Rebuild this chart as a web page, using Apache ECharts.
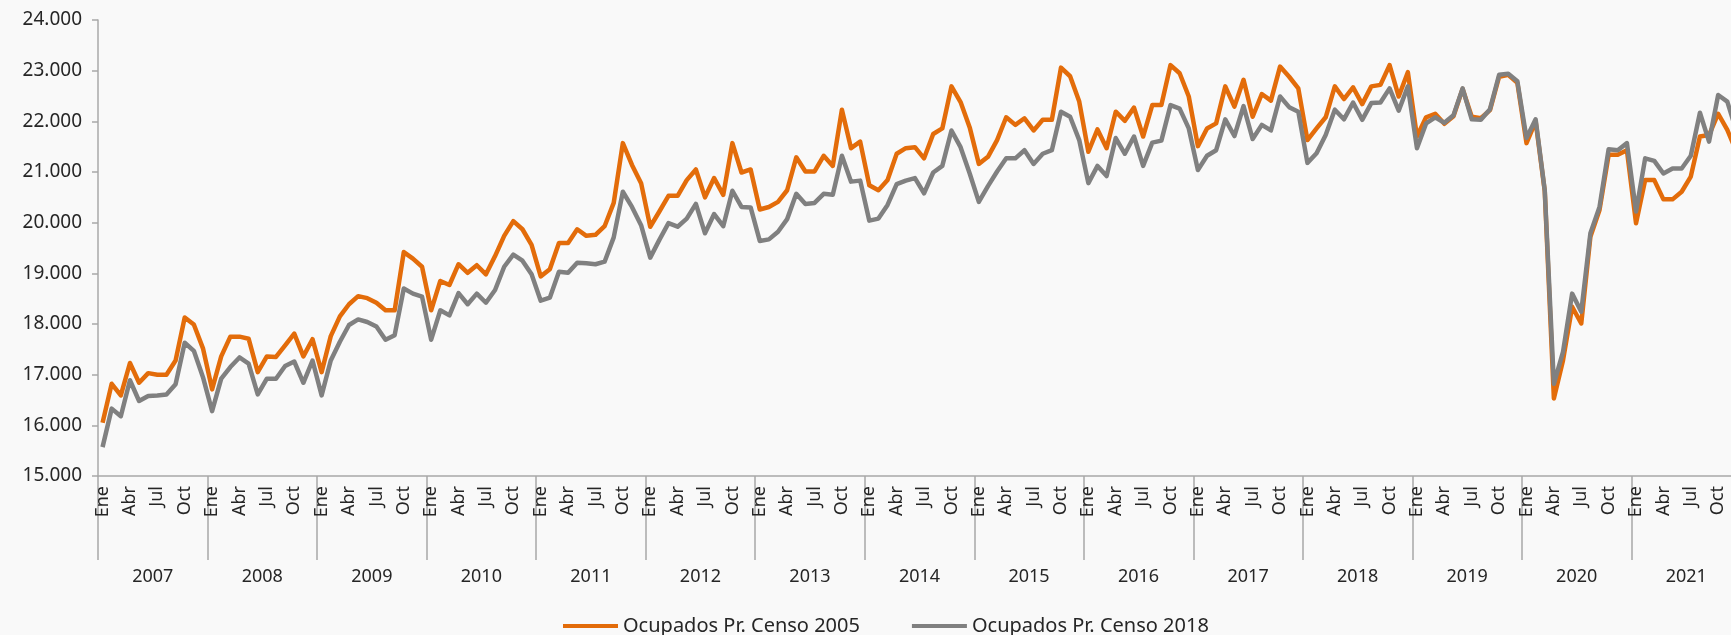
<!DOCTYPE html>
<html>
<head>
<meta charset="utf-8">
<title>Ocupados</title>
<script src="https://cdn.jsdelivr.net/npm/echarts@6/dist/echarts.min.js"></script>
<style>
  html, body { margin: 0; padding: 0; background: #f9f9f9; }
  #chart { width: 1731px; height: 635px; }
</style>
</head>
<body>
<div id="chart"></div>
<script>
// meses y años del eje x
const monthNames = ['Ene', 'Feb', 'Mar', 'Abr', 'May', 'Jun', 'Jul', 'Ago', 'Sep', 'Oct', 'Nov', 'Dic']
const years = ['2007', '2008', '2009', '2010', '2011', '2012', '2013', '2014', '2015', '2016', '2017', '2018', '2019', '2020', '2021']

// miles de personas, enero 2007 - diciembre 2021
const censo2005 = [
  16050, 16820, 16590, 17230, 16840, 17030, 17000, 17000, 17280, 18130, 17990, 17520,
  16710, 17360, 17750, 17750, 17710, 17050, 17360, 17350, 17580, 17810, 17360, 17700,
  17050, 17760, 18150, 18390, 18550, 18510, 18420, 18270, 18270, 19420, 19290, 19130,
  18270, 18850, 18770, 19180, 19010, 19160, 18980, 19340, 19740, 20030, 19870, 19560,
  18940, 19080, 19600, 19600, 19870, 19740, 19760, 19930, 20390, 21570, 21140, 20780,
  19920, 20220, 20530, 20530, 20840, 21050, 20500, 20880, 20550, 21570, 20990, 21050,
  20260, 20310, 20410, 20640, 21290, 21010, 21010, 21320, 21120, 22230, 21470, 21600,
  20740, 20640, 20840, 21360, 21470, 21490, 21270, 21750, 21860, 22690, 22380, 21880,
  21160, 21300, 21630, 22080, 21930, 22060, 21820, 22030, 22030, 23060, 22890, 22390,
  21400, 21840, 21470, 22190, 22010, 22270, 21700, 22320, 22320, 23110, 22950, 22490,
  21510, 21860, 21960, 22690, 22290, 22820, 22090, 22540, 22410, 23080, 22880, 22650,
  21630, 21860, 22080, 22690, 22440, 22670, 22340, 22690, 22720, 23110, 22490, 22970,
  21700, 22080, 22150, 21950, 22100, 22640, 22090, 22060, 22220, 22880, 22920, 22760,
  21570, 22000, 20620, 16530, 17280, 18340, 18010, 19720, 20250, 21340, 21340, 21430,
  19990, 20840, 20840, 20460, 20460, 20610, 20910, 21700, 21730, 22150, 21830, 21400
]
const censo2018 = [
  15570, 16330, 16180, 16890, 16480, 16580, 16590, 16610, 16810, 17630, 17470, 16950,
  16280, 16920, 17150, 17340, 17220, 16610, 16920, 16920, 17170, 17260, 16840, 17280,
  16590, 17280, 17650, 17980, 18090, 18040, 17950, 17690, 17780, 18700, 18600, 18540,
  17690, 18270, 18170, 18610, 18390, 18600, 18420, 18670, 19130, 19370, 19250, 18980,
  18460, 18520, 19030, 19010, 19210, 19200, 19180, 19230, 19710, 20610, 20310, 19950,
  19310, 19660, 19990, 19920, 20080, 20370, 19790, 20170, 19930, 20630, 20310, 20300,
  19640, 19670, 19820, 20070, 20570, 20370, 20390, 20570, 20550, 21320, 20810, 20830,
  20040, 20080, 20350, 20760, 20830, 20880, 20580, 20990, 21120, 21820, 21490, 20970,
  20410, 20720, 21010, 21270, 21270, 21430, 21160, 21360, 21430, 22190, 22090, 21630,
  20780, 21120, 20920, 21670, 21360, 21700, 21120, 21580, 21620, 22320, 22250, 21860,
  21040, 21320, 21430, 22040, 21710, 22300, 21650, 21930, 21820, 22490, 22280, 22190,
  21180, 21370, 21730, 22230, 22040, 22370, 22030, 22360, 22370, 22650, 22210, 22690,
  21470, 21960, 22080, 21970, 22120, 22650, 22040, 22030, 22240, 22920, 22940, 22790,
  21670, 22040, 20640, 16820, 17450, 18600, 18240, 19790, 20310, 21450, 21430, 21570,
  20220, 21270, 21220, 20970, 21070, 21070, 21320, 22170, 21600, 22520, 22390, 21800
]

const months = []
years.forEach(() => monthNames.forEach(m => months.push(m)))

const font = 'Noto Sans'
const txt = '#262626'
const axisGray = '#a8a8a8'

const chart = echarts.init(document.getElementById('chart'))
chart.setOption({
  backgroundColor: '#f9f9f9',
  animation: false,
  textStyle: { fontFamily: font },
  grid: { left: 98, top: 20, width: 1643, height: 456, outerBoundsMode: 'none' },
  legend: {
    data: ['Ocupados Pr. Censo 2005', 'Ocupados Pr. Censo 2018'],
    left: 558, top: 611,
    icon: 'rect', itemWidth: 55, itemHeight: 4, itemGap: 52,
    textStyle: { color: txt, fontSize: 20, fontFamily: font },
  },
  xAxis: [
    {
      type: 'category', data: months, position: 'bottom', boundaryGap: true,
      axisLine: { lineStyle: { color: axisGray, width: 1.5 } },
      axisTick: { show: false },
      axisLabel: { interval: 2, rotate: 90, margin: 10, fontSize: 18, color: txt, fontFamily: font },
      splitLine: { show: false },
    },
    {
      // separadores y etiquetas de año
      type: 'category', data: years, position: 'bottom', offset: 0, boundaryGap: true,
      axisLine: { show: false },
      axisTick: { show: true, interval: 0, length: 84, lineStyle: { color: axisGray, width: 1.5 } },
      axisLabel: { interval: 0, margin: 92, fontSize: 18, color: txt, fontFamily: font },
      splitLine: { show: false },
    },
  ],
  yAxis: {
    type: 'value', min: 15000, max: 24000, interval: 1000,
    axisLine: { show: true, lineStyle: { color: axisGray, width: 1.5 } },
    axisTick: { show: true, length: 6, lineStyle: { color: axisGray, width: 1.5 } },
    axisLabel: {
      margin: 16, fontSize: 19, color: txt, fontFamily: font,
      formatter: v => Math.floor(v / 1000) + '.' + String(v % 1000).padStart(3, '0'),
    },
    splitLine: { show: false },
  },
  series: [
    { name: 'Ocupados Pr. Censo 2005', type: 'line', data: censo2005, xAxisIndex: 0,
      symbol: 'none', itemStyle: { color: '#e36c0a' },
      lineStyle: { width: 4.5, color: '#e36c0a', join: 'round' } },
    { name: 'Ocupados Pr. Censo 2018', type: 'line', data: censo2018, xAxisIndex: 0,
      symbol: 'none', itemStyle: { color: '#808080' },
      lineStyle: { width: 4.5, color: '#808080', join: 'round' } },
  ],
})
</script>
</body>
</html>
